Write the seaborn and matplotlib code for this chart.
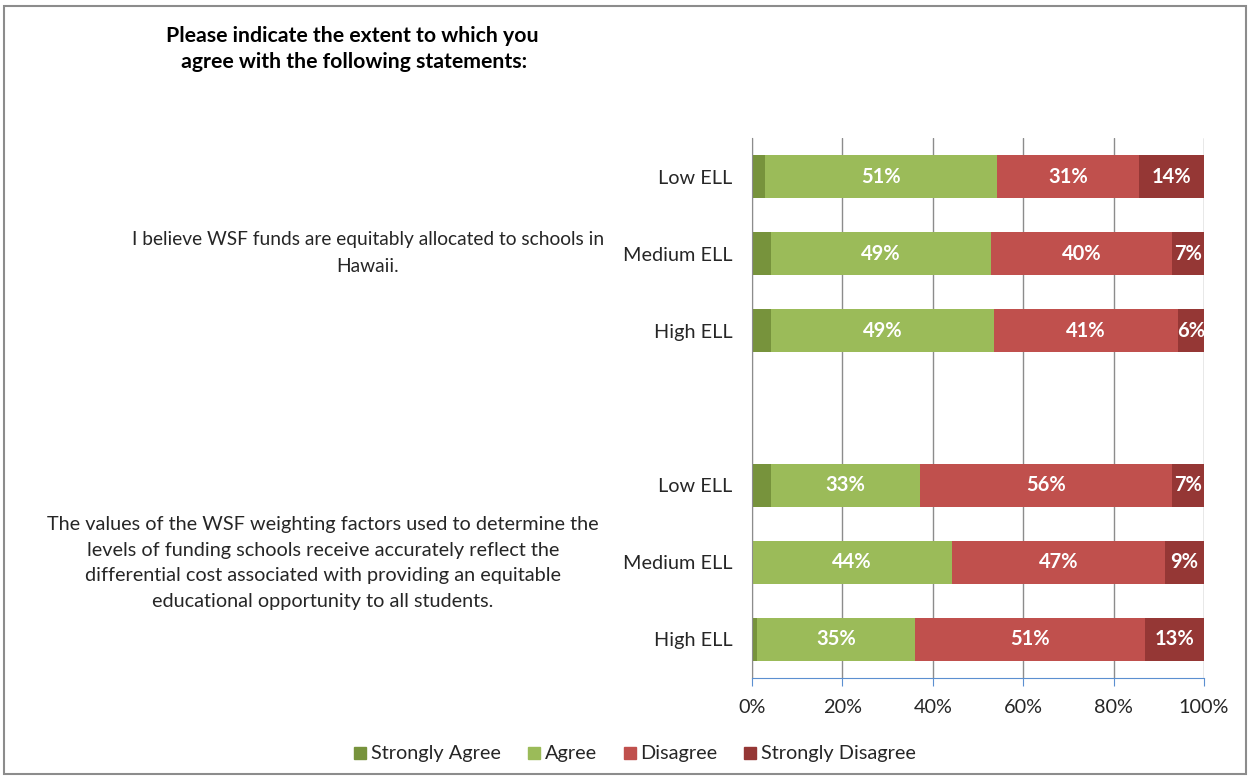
import matplotlib
matplotlib.use("Agg")
import matplotlib.pyplot as plt
from matplotlib.lines import Line2D
from matplotlib.patches import Rectangle
import numpy as np
import seaborn as sns

# data (percent of respondents)
row_ids = ["q1_low", "q1_med", "q1_high", "gap", "q2_low", "q2_med", "q2_high"]
row_labels = ["Low ELL", "Medium ELL", "High ELL", "", "Low ELL", "Medium ELL", "High ELL"]
levels = ["Strongly Agree", "Agree", "Disagree", "Strongly Disagree"]
colors = ["#77933C", "#9BBB59", "#C0504D", "#953735"]

strongly_agree = [2.9, 4.2, 4.2, 4.2, 0.0, 1.2]
agree = [51.4, 48.6, 49.4, 32.9, 44.2, 34.9]
disagree = [31.4, 40.1, 40.6, 55.8, 47.2, 50.9]
strongly_disagree = [14.3, 7.1, 5.8, 7.1, 8.6, 13.0]

statements = [
    "I believe WSF funds are equitably allocated to schools in\nHawaii.",
    "The values of the WSF weighting factors used to determine the\nlevels of funding schools receive accurately reflect the\n"
    "differential cost associated with providing an equitable\neducational opportunity to all students.",
]
title = "Please indicate the extent to which you\n agree with the following statements:"

sns.set_style("white")
plt.rcParams["font.family"] = ["Lato", "DejaVu Sans"]

vals = np.array([strongly_agree, agree, disagree, strongly_disagree]).T
cum = vals.cumsum(axis=1)
data_rows = [r for r in row_ids if r != "gap"]

fig = plt.figure(figsize=(12.5, 7.82), dpi=100)
ax = fig.add_axes([0.6016, 0.133, 0.3616, 0.6905])

# stacked bars: draw cumulative totals from the outermost segment inwards
for i in reversed(range(len(levels))):
    sns.barplot(x=cum[:, i], y=data_rows, order=row_ids, color=colors[i],
                saturation=1, width=0.56, orient="h", ax=ax, linewidth=0)

# value labels
for r, rid in enumerate(data_rows):
    y = row_ids.index(rid)
    for i in range(1, 4):
        v = vals[r, i]
        if v >= 5:
            ax.text(cum[r, i] - v / 2, y, f"{round(v)}%", ha="center", va="center",
                    color="white", fontsize=14.5, fontweight="bold")

ax.set_xlim(0, 100)
ax.set_ylim(6.5, -0.5)
ax.set_xticks([0, 20, 40, 60, 80, 100])
ax.set_xticklabels(["0%", "20%", "40%", "60%", "80%", "100%"])
ax.set_yticks(range(len(row_ids)))
ax.set_yticklabels(row_labels)
ax.set_xlabel("")
ax.set_ylabel("")
ax.xaxis.grid(True, color="#8C8C8C", linewidth=1)
ax.set_axisbelow(True)
for s in ["top", "right"]:
    ax.spines[s].set_visible(False)
ax.spines["left"].set_color("#8C8C8C")
ax.spines["bottom"].set_color("#5B8FD0")
ax.tick_params(axis="x", length=6, color="#5B8FD0", direction="out", pad=9,
               labelsize=14.3, labelcolor="#262626")
ax.tick_params(axis="y", length=0, pad=14, labelsize=14.3, labelcolor="#262626")
ax.tick_params(axis="x", bottom=True)

# statements and title
fig.text(368 / 1250, 1 - 253 / 782, statements[0], ha="center", va="center",
         fontsize=13.8, color="#262626", linespacing=1.65)
fig.text(323 / 1250, 1 - 563 / 782, statements[1], ha="center", va="center",
         fontsize=14.3, color="#262626", linespacing=1.6)
fig.text(352 / 1250, 1 - 49 / 782, title, ha="center", va="center",
         fontsize=15.3, fontweight="bold", color="black", linespacing=1.35)

handles = [Line2D([], [], marker="s", linestyle="", color=c, markersize=9) for c in colors]
fig.legend(handles, levels, loc="center", bbox_to_anchor=(0.507, 1 - 754 / 782), ncol=4,
           frameon=False, fontsize=14.3, handletextpad=0.1, columnspacing=1.2,
           handlelength=0.9)

# chart border
fig.patches.append(Rectangle((0.003, 0.01), 0.994, 0.982, transform=fig.transFigure,
                             fill=False, edgecolor="#8C8C8C", linewidth=1.5))

fig.savefig("out.png", dpi=100)
